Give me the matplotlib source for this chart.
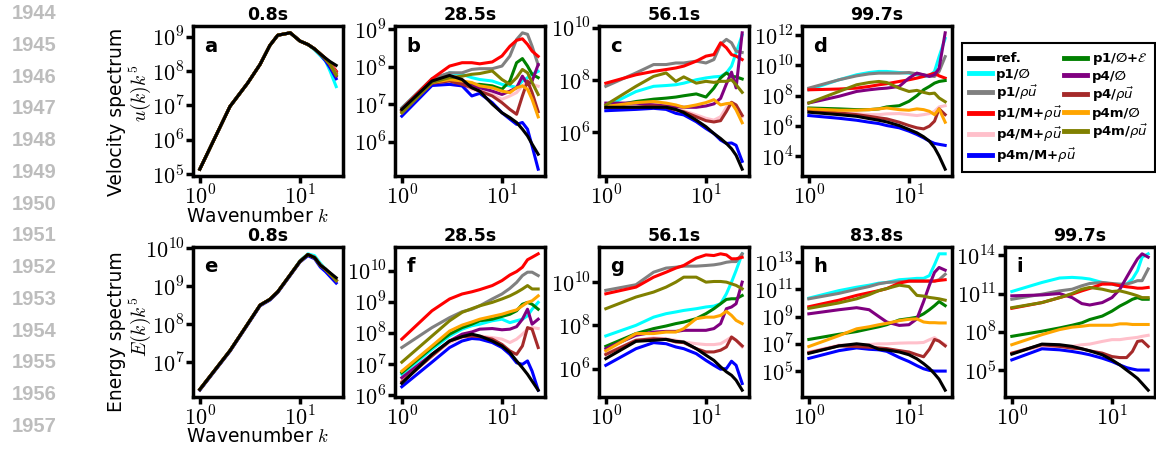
import numpy as np
import matplotlib
matplotlib.use('Agg')
import matplotlib.pyplot as plt
from matplotlib.ticker import NullLocator, FuncFormatter

plt.rcParams['mathtext.fontset'] = 'cm'
plt.rcParams['font.family'] = 'DejaVu Sans'

k = [1, 2, 3, 4, 5, 6, 8, 10, 12, 14, 16, 18, 20, 23]

labels = ['ref.', 'p1/∅', r'p1/$\rho\vec{u}$', r'p1/M+$\rho\vec{u}$', r'p4/M+$\rho\vec{u}$',
          r'p4m/M+$\rho\vec{u}$', r'p1/∅+$\mathcal{E}$', 'p4/∅', r'p4/$\rho\vec{u}$',
          'p4m/∅', r'p4m/$\rho\vec{u}$']
colors = ['black', 'cyan', 'grey', 'red', 'pink', 'blue', 'green', 'purple', 'brown',
          'orange', 'olive']

# log10 of the spectra, one row per entry of `labels`
vel_0_8 = [
    [5.14, 6.97, 7.65, 8.2, 8.75, 9.05, 9.12, 8.88, 8.78, 8.65, 8.5, 8.38, 8.28, 8.17],
    [5.14, 6.97, 7.65, 8.2, 8.75, 9.05, 9.12, 8.88, 8.78, 8.62, 8.45, 8.3, 8.0, 7.55],
    [5.14, 6.97, 7.65, 8.2, 8.75, 9.05, 9.12, 8.88, 8.78, 8.65, 8.5, 8.35, 8.2, 8.0],
    [5.14, 6.97, 7.65, 8.2, 8.75, 9.05, 9.12, 8.88, 8.78, 8.65, 8.5, 8.38, 8.25, 8.0],
    [5.14, 6.97, 7.65, 8.2, 8.75, 9.05, 9.12, 8.88, 8.78, 8.65, 8.5, 8.36, 8.22, 7.95],
    [5.14, 6.97, 7.65, 8.2, 8.75, 9.05, 9.12, 8.88, 8.78, 8.65, 8.48, 8.3, 8.1, 7.78],
    [5.14, 6.97, 7.65, 8.2, 8.75, 9.05, 9.12, 8.88, 8.78, 8.65, 8.5, 8.36, 8.2, 7.9],
    [5.14, 6.97, 7.65, 8.2, 8.75, 9.05, 9.12, 8.88, 8.78, 8.65, 8.5, 8.35, 8.18, 7.85],
    [5.14, 6.97, 7.65, 8.2, 8.75, 9.05, 9.12, 8.88, 8.78, 8.65, 8.5, 8.36, 8.2, 7.95],
    [5.14, 6.97, 7.65, 8.2, 8.75, 9.05, 9.12, 8.88, 8.78, 8.65, 8.5, 8.36, 8.2, 7.9],
    [5.14, 6.97, 7.65, 8.2, 8.75, 9.05, 9.12, 8.88, 8.78, 8.65, 8.5, 8.36, 8.2, 7.88],
]
vel_28_5 = [
    [6.86, 7.62, 7.77, 7.66, 7.44, 7.35, 7.0, 6.77, 6.64, 6.51, 6.33, 6.15, 5.93, 5.66],
    [6.9, 7.66, 7.84, 7.8, 7.71, 7.66, 7.62, 7.53, 7.49, 7.45, 7.62, 7.71, 7.8, 7.88],
    [6.9, 7.68, 7.84, 7.84, 7.93, 7.95, 7.95, 8.02, 8.29, 8.73, 8.91, 8.87, 8.55, 8.05],
    [6.86, 7.68, 8.02, 8.11, 8.11, 8.08, 8.13, 8.29, 8.55, 8.71, 8.75, 8.6, 8.42, 8.28],
    [6.82, 7.53, 7.53, 7.49, 7.4, 7.35, 7.26, 7.13, 7.22, 7.31, 7.49, 7.58, 7.53, 7.48],
    [6.68, 7.5, 7.53, 7.49, 7.22, 7.29, 7.04, 6.77, 6.6, 6.46, 6.51, 6.33, 5.88, 5.26],
    [6.82, 7.58, 7.69, 7.57, 7.53, 7.53, 7.49, 7.4, 7.62, 8.11, 8.22, 8.02, 7.8, 7.71],
    [6.82, 7.58, 7.66, 7.58, 7.49, 7.44, 7.35, 7.26, 7.35, 7.44, 7.75, 7.53, 7.62, 8.06],
    [6.82, 7.56, 7.62, 7.53, 7.44, 7.35, 7.22, 7.04, 6.86, 6.73, 7.22, 7.62, 7.31, 6.8],
    [6.77, 7.58, 7.66, 7.62, 7.58, 7.49, 7.44, 7.35, 7.31, 7.44, 7.49, 7.4, 7.13, 6.66],
    [6.77, 7.58, 7.71, 7.75, 7.8, 7.82, 7.89, 7.66, 7.53, 7.71, 7.93, 7.84, 7.58, 7.26],
]
vel_56_1 = [
    [6.96, 6.96, 6.96, 6.96, 6.88, 6.76, 6.47, 6.22, 5.96, 5.77, 5.58, 5.38, 5.13, 4.6],
    [6.99, 7.56, 7.76, 7.79, 7.82, 7.88, 8.01, 8.08, 8.12, 8.14, 8.27, 8.53, 9.04, 9.72],
    [7.76, 8.27, 8.59, 8.59, 8.65, 8.65, 8.72, 8.65, 8.78, 9.36, 9.55, 9.42, 9.1, 9.05],
    [7.88, 8.2, 8.33, 8.4, 8.46, 8.53, 8.72, 8.91, 8.97, 9.42, 9.23, 8.97, 8.91, 8.78],
    [6.96, 7.05, 7.09, 6.99, 6.88, 6.83, 6.67, 6.54, 6.47, 6.6, 6.96, 7.12, 6.92, 6.6],
    [6.83, 6.88, 6.92, 6.88, 6.73, 6.67, 6.41, 6.15, 5.96, 5.71, 5.58, 5.6, 5.51, 4.9],
    [6.96, 7.18, 7.27, 7.31, 7.35, 7.4, 7.47, 7.35, 7.69, 8.08, 8.27, 8.14, 8.12, 8.04],
    [7.12, 7.12, 7.05, 7.01, 6.99, 6.96, 6.96, 7.01, 7.09, 7.3, 7.85, 8.3, 7.7, 9.8],
    [6.96, 6.96, 7.01, 6.96, 6.86, 6.79, 6.6, 6.45, 6.4, 6.45, 6.8, 7.15, 7.05, 6.65],
    [6.99, 7.14, 7.18, 7.12, 7.05, 6.96, 7.05, 7.14, 7.25, 7.05, 7.1, 7.12, 6.86, 6.37],
    [7.05, 7.76, 8.14, 8.27, 7.95, 8.12, 7.88, 7.95, 7.91, 7.95, 7.95, 8.01, 7.82, 7.53],
]
vel_99_7 = [
    [6.91, 6.75, 6.64, 6.49, 6.38, 6.27, 6.03, 5.77, 5.55, 5.29, 5.0, 4.57, 4.02, 3.15],
    [8.39, 9.05, 9.38, 9.53, 9.6, 9.6, 9.53, 9.49, 9.38, 9.27, 9.31, 9.6, 10.58, 11.78],
    [8.5, 9.05, 9.31, 9.44, 9.49, 9.49, 9.49, 9.53, 9.44, 9.38, 9.31, 9.27, 9.6, 10.58],
    [8.39, 8.44, 8.5, 8.61, 8.72, 8.79, 8.94, 9.05, 9.16, 9.27, 9.38, 9.49, 9.31, 9.16],
    [7.08, 6.91, 6.82, 6.75, 6.75, 6.8, 6.82, 6.75, 6.69, 6.75, 6.82, 6.97, 7.26, 7.34],
    [6.69, 6.51, 6.38, 6.25, 6.16, 6.03, 5.88, 5.66, 5.44, 5.22, 5.0, 4.85, 4.79, 4.72],
    [7.19, 7.13, 7.08, 7.08, 7.13, 7.26, 7.34, 7.63, 8.0, 8.39, 8.61, 8.83, 8.94, 9.0],
    [7.52, 7.96, 8.28, 8.39, 8.46, 8.5, 8.61, 9.16, 9.49, 9.38, 9.27, 9.38, 9.81, 12.15],
    [7.08, 6.86, 6.75, 6.64, 6.54, 6.47, 6.25, 6.03, 5.88, 5.81, 5.99, 6.32, 7.13, 6.75],
    [7.13, 7.04, 7.04, 7.08, 7.13, 7.19, 7.08, 7.04, 7.13, 7.08, 6.97, 6.75, 7.13, 6.25],
    [7.52, 8.28, 8.72, 8.87, 8.94, 8.87, 8.5, 8.28, 8.35, 8.22, 8.13, 8.17, 7.85, 7.6],
]
en_0_8 = [
    [6.28, 7.3, 8.0, 8.5, 8.65, 8.85, 9.3, 9.65, 9.83, 9.75, 9.55, 9.45, 9.35, 9.22],
    [6.28, 7.3, 8.0, 8.5, 8.65, 8.85, 9.3, 9.67, 9.85, 9.8, 9.6, 9.45, 9.3, 9.15],
    [6.28, 7.3, 8.0, 8.5, 8.65, 8.85, 9.3, 9.65, 9.83, 9.75, 9.55, 9.45, 9.33, 9.18],
    [6.28, 7.3, 8.0, 8.5, 8.65, 8.85, 9.3, 9.65, 9.83, 9.75, 9.55, 9.43, 9.3, 9.15],
    [6.28, 7.3, 8.0, 8.5, 8.65, 8.85, 9.3, 9.65, 9.83, 9.75, 9.55, 9.43, 9.3, 9.12],
    [6.26, 7.28, 7.98, 8.48, 8.63, 8.83, 9.28, 9.63, 9.8, 9.72, 9.5, 9.38, 9.25, 9.08],
    [6.28, 7.3, 8.0, 8.5, 8.65, 8.85, 9.3, 9.65, 9.83, 9.75, 9.55, 9.44, 9.32, 9.15],
    [6.28, 7.3, 8.0, 8.5, 8.65, 8.85, 9.3, 9.65, 9.83, 9.75, 9.55, 9.44, 9.32, 9.15],
    [6.28, 7.3, 8.0, 8.5, 8.65, 8.85, 9.3, 9.65, 9.83, 9.75, 9.55, 9.44, 9.32, 9.15],
    [6.28, 7.3, 8.0, 8.5, 8.65, 8.85, 9.3, 9.65, 9.83, 9.75, 9.55, 9.44, 9.32, 9.15],
    [6.28, 7.3, 8.0, 8.5, 8.65, 8.85, 9.3, 9.65, 9.83, 9.75, 9.55, 9.44, 9.32, 9.15],
]
en_28_5 = [
    [6.38, 7.31, 7.74, 7.88, 7.96, 7.9, 7.74, 7.58, 7.37, 7.1, 6.88, 6.67, 6.45, 6.16],
    [6.67, 7.47, 7.9, 8.12, 8.23, 8.28, 8.39, 8.44, 8.33, 8.39, 8.44, 8.55, 8.76, 8.98],
    [7.53, 8.17, 8.49, 8.68, 8.76, 8.87, 9.09, 9.25, 9.43, 9.62, 9.84, 9.95, 9.95, 9.84],
    [7.8, 8.71, 9.09, 9.25, 9.32, 9.39, 9.52, 9.68, 9.86, 9.97, 10.11, 10.35, 10.43, 10.54],
    [6.45, 7.26, 7.69, 7.85, 7.9, 7.9, 7.85, 7.8, 7.69, 7.8, 7.96, 8.12, 8.17, 8.14],
    [6.27, 7.06, 7.53, 7.74, 7.82, 7.8, 7.69, 7.53, 7.31, 7.04, 6.99, 7.1, 6.77, 6.16],
    [6.72, 7.53, 7.96, 8.17, 8.28, 8.39, 8.44, 8.53, 8.6, 8.71, 8.92, 8.98, 8.92, 8.76],
    [6.56, 7.31, 7.74, 7.96, 8.03, 8.12, 8.14, 8.1, 8.12, 8.2, 8.44, 8.76, 8.28, 8.44],
    [6.42, 7.26, 7.74, 7.88, 7.9, 7.88, 7.8, 7.63, 7.42, 7.31, 7.58, 8.17, 8.12, 7.53],
    [6.77, 7.58, 8.06, 8.25, 8.35, 8.44, 8.53, 8.6, 8.68, 8.74, 8.87, 8.98, 9.03, 9.19],
    [7.06, 7.9, 8.39, 8.66, 8.78, 8.87, 8.98, 9.09, 9.19, 9.3, 9.41, 9.52, 9.41, 9.41],
]
en_56_1 = [
    [6.46, 7.26, 7.31, 7.35, 7.26, 7.23, 6.92, 6.62, 6.38, 6.08, 5.85, 5.69, 5.46, 5.0],
    [7.51, 8.0, 8.38, 8.54, 8.62, 8.69, 8.77, 8.85, 8.89, 9.0, 9.46, 10.0, 10.54, 11.31],
    [9.62, 9.88, 10.46, 10.65, 10.69, 10.74, 10.74, 10.77, 10.8, 10.85, 10.92, 10.95, 10.95, 11.31],
    [9.46, 9.77, 10.23, 10.46, 10.65, 10.77, 11.11, 11.26, 11.23, 11.31, 11.26, 11.08, 11.08, 11.15],
    [6.69, 7.31, 7.42, 7.38, 7.31, 7.23, 7.15, 7.11, 7.11, 7.15, 7.31, 7.46, 7.31, 7.0],
    [6.15, 6.92, 7.2, 7.15, 7.0, 6.92, 6.69, 6.38, 6.15, 5.97, 6.0, 6.34, 6.15, 5.31],
    [7.03, 7.62, 7.85, 7.97, 8.08, 8.15, 8.31, 8.54, 8.77, 9.0, 9.2, 9.23, 9.23, 9.38],
    [6.92, 7.54, 7.69, 7.72, 7.72, 7.77, 7.77, 7.77, 7.85, 8.08, 8.77, 8.85, 9.0, 10.0],
    [6.65, 7.31, 7.38, 7.35, 7.23, 7.2, 6.92, 6.77, 6.77, 6.85, 7.0, 7.46, 7.31, 7.05],
    [6.82, 7.62, 7.62, 7.69, 7.69, 7.85, 8.31, 8.38, 8.38, 8.46, 8.65, 8.46, 8.23, 8.08],
    [8.77, 9.31, 9.54, 9.77, 10.0, 10.23, 10.23, 10.0, 10.03, 10.03, 10.0, 9.92, 9.85, 9.69],
]
en_83_8 = [
    [6.3, 6.85, 7.0, 6.9, 6.6, 6.55, 6.4, 6.2, 5.9, 5.55, 5.2, 4.8, 4.4, 3.6],
    [10.35, 10.9, 11.15, 11.3, 11.45, 11.5, 11.7, 11.75, 11.8, 11.8, 12.0, 12.8, 13.6, 13.6],
    [10.3, 10.7, 11.0, 11.2, 11.4, 11.5, 11.55, 11.6, 11.6, 11.6, 11.6, 11.6, 11.7, 12.1],
    [9.72, 10.2, 10.55, 10.75, 10.9, 11.05, 11.45, 11.6, 11.6, 11.6, 11.6, 11.6, 11.65, 11.7],
    [6.4, 6.9, 6.95, 6.95, 7.0, 7.0, 7.05, 7.07, 7.07, 7.1, 7.3, 7.45, 7.2, 6.94],
    [5.93, 6.5, 6.7, 6.6, 6.56, 6.45, 6.0, 5.7, 5.4, 5.17, 5.05, 5.0, 5.0, 5.0],
    [7.32, 7.7, 7.9, 8.1, 8.25, 8.4, 8.75, 8.85, 8.95, 9.2, 9.5, 9.8, 10.1, 9.8],
    [9.2, 9.5, 9.65, 9.5, 9.0, 8.6, 8.35, 8.4, 8.83, 10.1, 11.3, 12.24, 12.6, 12.4],
    [6.35, 6.85, 6.8, 6.75, 6.7, 6.65, 6.5, 6.4, 6.2, 6.05, 6.6, 7.32, 7.2, 6.85],
    [6.8, 7.6, 8.1, 8.25, 8.4, 8.5, 8.7, 8.8, 8.83, 8.6, 8.55, 8.55, 8.53, 8.53],
    [9.6, 10.0, 10.3, 10.6, 10.9, 11.05, 11.3, 11.2, 10.55, 10.5, 10.4, 10.35, 10.3, 10.2],
]
en_99_7 = [
    [6.25, 7.04, 6.99, 6.86, 6.67, 6.51, 6.2, 5.8, 5.4, 5.0, 4.66, 4.34, 3.95, 3.42],
    [11.17, 11.88, 12.23, 12.28, 12.23, 12.15, 11.88, 11.75, 11.62, 11.75, 12.15, 12.81, 13.87, 14.13],
    [10.56, 10.96, 11.22, 11.35, 11.62, 11.8, 11.88, 11.8, 11.75, 11.75, 11.88, 12.02, 12.02, 12.94],
    [9.85, 10.3, 10.69, 10.96, 11.22, 11.41, 11.75, 11.75, 11.62, 11.54, 11.49, 11.43, 11.43, 11.49],
    [6.33, 6.86, 6.86, 6.86, 6.99, 7.04, 7.25, 7.39, 7.39, 7.47, 7.52, 7.57, 7.65, 7.73],
    [5.8, 6.67, 6.59, 6.46, 6.33, 6.2, 5.93, 5.67, 5.4, 5.19, 5.08, 5.0, 5.0, 5.0],
    [7.65, 8.05, 8.31, 8.52, 8.71, 8.97, 9.24, 9.63, 10.03, 10.3, 10.56, 10.69, 10.56, 10.56],
    [10.83, 10.9, 11.01, 10.69, 10.22, 10.11, 10.3, 10.69, 11.35, 12.28, 13.07, 13.74, 14.13, 13.87],
    [6.33, 6.99, 6.86, 6.72, 6.67, 6.51, 6.33, 6.06, 5.98, 5.98, 6.46, 7.25, 7.31, 6.86],
    [6.99, 7.78, 8.18, 8.37, 8.44, 8.52, 8.52, 8.52, 8.63, 8.63, 8.58, 8.58, 8.58, 8.58],
    [9.9, 10.3, 10.69, 11.01, 11.35, 11.49, 11.35, 11.17, 11.22, 11.09, 10.96, 10.83, 10.69, 10.69],
]

line_numbers = list(range(1944, 1958))

# (data, title, panel letter, column, row, y tick exponents)
panels = [
    (vel_0_8, '0.8s', 'a', 0, 0, [5, 6, 7, 8, 9]),
    (vel_28_5, '28.5s', 'b', 1, 0, [6, 7, 8, 9]),
    (vel_56_1, '56.1s', 'c', 2, 0, [6, 8, 10]),
    (vel_99_7, '99.7s', 'd', 3, 0, [4, 6, 8, 10, 12]),
    (en_0_8, '0.8s', 'e', 0, 1, [7, 8, 9, 10]),
    (en_28_5, '28.5s', 'f', 1, 1, [6, 7, 8, 9, 10]),
    (en_56_1, '56.1s', 'g', 2, 1, [6, 8, 10]),
    (en_83_8, '83.8s', 'h', 3, 1, [5, 7, 9, 11, 13]),
    (en_99_7, '99.7s', 'i', 4, 1, [5, 8, 11, 14]),
]

W, H = 1156, 450
fig = plt.figure(figsize=(W / 100, H / 100), dpi=100)

col_x = [193, 395, 599, 802, 1005]
row_top = [26, 247]
aw, ah = 150, 150

pow10 = FuncFormatter(lambda v, pos: r'$10^{%d}$' % int(round(np.log10(v))))

handles = None
for data, title, letter, col, row, yexp in panels:
    ax = fig.add_axes([col_x[col] / W, 1 - (row_top[row] + ah) / H, aw / W, ah / H])
    lines = []
    order = list(range(1, len(labels))) + [0]
    for i in order:
        ln, = ax.plot(k, 10 ** np.array(data[i]), color=colors[i], lw=2.2,
                      zorder=3 if i == 0 else 2)
        lines.append((i, ln))
    if handles is None:
        handles = [ln for i, ln in sorted(lines, key=lambda t: t[0])]
    ax.set_xscale('log')
    ax.set_yscale('log')
    ax.set_xticks([1, 10])
    ax.set_yticks([10.0 ** e for e in yexp])
    ax.xaxis.set_major_formatter(pow10)
    ax.yaxis.set_major_formatter(pow10)
    ax.xaxis.set_minor_locator(NullLocator())
    ax.yaxis.set_minor_locator(NullLocator())
    ax.tick_params(which='major', length=5, width=2.5, labelsize=16, pad=1, direction='out')
    for sp in ax.spines.values():
        sp.set_linewidth(2.5)
    ax.set_title(title, fontsize=12.5, fontweight='bold', pad=4)
    ax.text(0.075, 0.83, letter, transform=ax.transAxes, fontsize=14, fontweight='bold',
            ha='left', va='baseline')

# axis labels
fig.text(117 / W, 1 - 112 / H, 'Velocity spectrum', rotation=90, ha='center', va='center',
         fontsize=13.5)
fig.text(140 / W, 1 - 93 / H, r'$u(k)k^5$', rotation=90, ha='center', va='center', fontsize=14)
fig.text(117 / W, 1 - 332 / H, 'Energy spectrum', rotation=90, ha='center', va='center',
         fontsize=13.5)
fig.text(140 / W, 1 - 327 / H, r'$E(k)k^5$', rotation=90, ha='center', va='center', fontsize=14)
for yy in [217, 437]:
    fig.text(258 / W, 1 - yy / H, r'Wavenumber $k$', ha='center', va='center', fontsize=13.5)

# manuscript line numbers
for j, num in enumerate(line_numbers):
    fig.text(34 / W, 1 - (13.7 + 31.75 * j) / H, str(num), ha='center', va='center',
             fontsize=14.5, fontweight='bold', color='#bdbdbd', family='Liberation Sans')

leg = fig.legend(handles, labels, loc='upper left', bbox_to_anchor=(962 / W, 1 - 43 / H),
                 ncol=2, frameon=True, fancybox=False, edgecolor='black', framealpha=1,
                 prop={'weight': 'bold', 'size': 9.5}, handlelength=1.7, handletextpad=0.35,
                 columnspacing=-0.9, labelspacing=0.2, borderpad=0.55, borderaxespad=0)
leg.get_frame().set_linewidth(1.5)
for t in leg.get_texts():
    t.set_math_fontfamily('dejavusans')
for h in leg.legend_handles:
    h.set_linewidth(3.5)

fig.savefig('out.png', dpi=100)
